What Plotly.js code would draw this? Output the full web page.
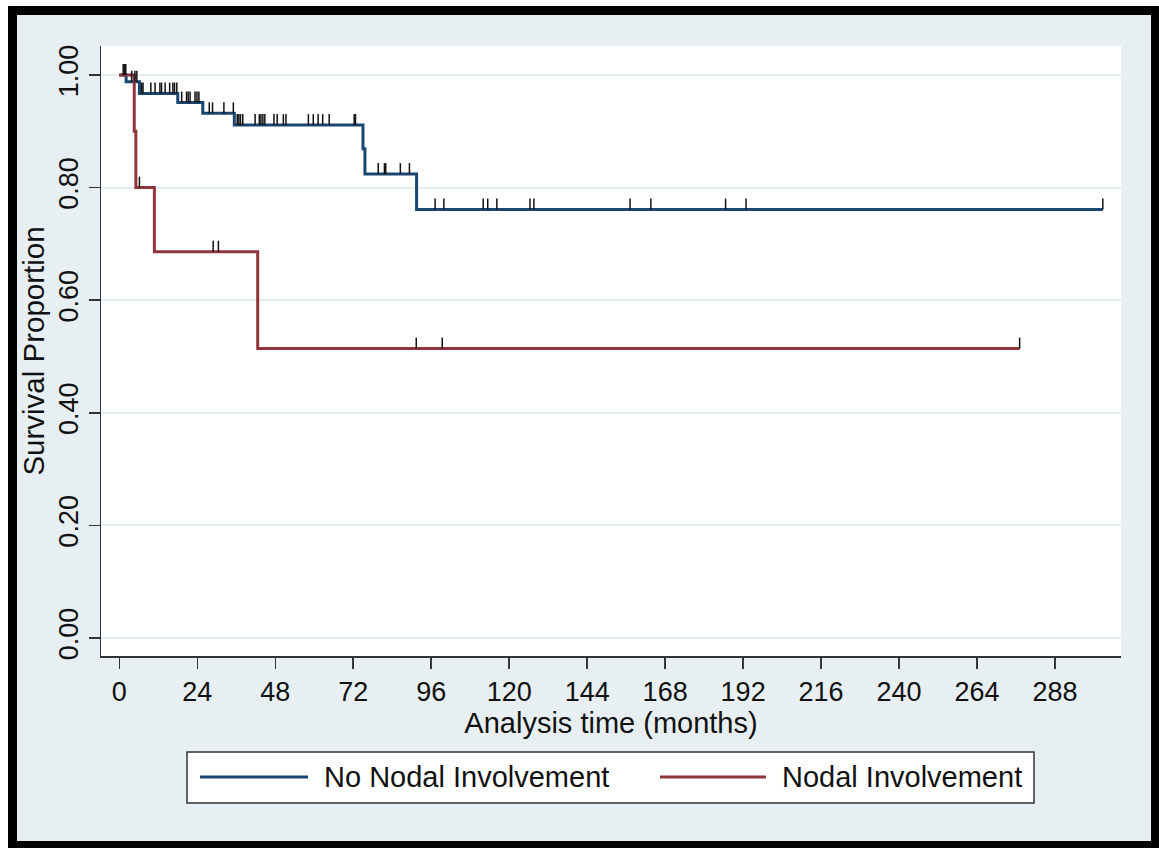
<!DOCTYPE html>
<html>
<head>
<meta charset="utf-8">
<script src="https://cdn.plot.ly/plotly-3.0.1.min.js"></script>
<style>html,body{margin:0;padding:0;background:#fff;}#chart{width:1159px;height:848px;}</style>
</head>
<body>
<div id="chart"></div>
<script>
// ---- Data ----
const seriesNames = ["No Nodal Involvement", "Nodal Involvement"];

// Kaplan-Meier step points: No Nodal Involvement
const noNodalTime = [0, 2.1, 6.2, 18.0, 25.7, 35.4, 75.0, 75.6, 91.5, 302.7];
const noNodalSurv = [1.0, 0.988, 0.967, 0.951, 0.932, 0.911, 0.869, 0.824, 0.761, 0.761];
// Censoring times: No Nodal Involvement
const noNodalCensor = [1.2, 1.6, 2.0, 3.8, 4.8, 5.4, 6.9, 7.3, 9.7, 11.0, 12.5, 13.0, 14.1, 15.5, 16.5, 17.0, 17.7,
  19.2, 20.7, 21.2, 21.8, 23.3, 23.9, 24.5, 27.7, 28.7, 32.2, 35.1,
  36.3, 36.8, 37.3, 38.0, 41.8, 43.1, 43.6, 44.2, 44.8, 47.6, 48.6, 50.5, 51.3, 58.2, 59.7, 61.2, 62.6, 64.6, 72.3, 72.7,
  79.7, 81.6, 82.0, 86.5, 89.3,
  97.2, 99.9, 112.0, 113.4, 116.2, 126.4, 127.6, 157.2, 163.6, 186.6, 192.9, 302.7];

// Kaplan-Meier step points: Nodal Involvement
const nodalTime = [0, 4.6, 5.1, 10.8, 42.6, 277.1];
const nodalSurv = [1.0, 0.9, 0.8, 0.686, 0.514, 0.514];
// Censoring times: Nodal Involvement
const nodalCensor = [6.2, 28.9, 30.5, 91.4, 99.4, 277.1];

const xTickVals = [0, 24, 48, 72, 96, 120, 144, 168, 192, 216, 240, 264, 288];
const yTickVals = [0, 0.2, 0.4, 0.6, 0.8, 1.0];
const yTickText = ["0.00", "0.20", "0.40", "0.60", "0.80", "1.00"];

// ---- helpers ----
function survAt(times, surv, t) {
  let v = surv[0];
  for (let i = 0; i < times.length; i++) { if (times[i] <= t) v = surv[i]; }
  return v;
}

const blue = "#1a476f", red = "#90353b";
const FONT = "Liberation Sans, Arial, Helvetica, sans-serif";

// layout geometry (pixels)
const W = 1159, H = 848;
const L = 101, R = 38, T = 46, B = 192;
const PW = W - L - R, PH = H - T - B;
const px = v => (v - L) / PW;
const py = v => 1 - (v - T) / PH;

function rectPx(x0, y0, x1, y1, fill, lineColor, lineWidth) {
  return {type: "rect", xref: "paper", yref: "paper", layer: "below",
    x0: px(x0), x1: px(x1), y0: py(y1), y1: py(y0),
    fillcolor: fill, line: {color: lineColor || fill, width: lineWidth || 0}};
}

const traces = [
  {x: noNodalTime, y: noNodalSurv, type: "scatter", mode: "lines", line: {shape: "hv", color: blue, width: 3},
    name: seriesNames[0], showlegend: false, hoverinfo: "skip"},
  {x: nodalTime, y: nodalSurv, type: "scatter", mode: "lines", line: {shape: "hv", color: red, width: 3},
    name: seriesNames[1], showlegend: false, hoverinfo: "skip"},
  {x: noNodalCensor, y: noNodalCensor.map(t => survAt(noNodalTime, noNodalSurv, t)), type: "scatter", mode: "markers",
    marker: {size: 1, opacity: 0}, showlegend: false, hoverinfo: "skip",
    error_y: {type: "constant", symmetric: false, value: 0.0195, valueminus: 0, width: 0, thickness: 1.5, color: "#111"}},
  {x: nodalCensor, y: nodalCensor.map(t => survAt(nodalTime, nodalSurv, t)), type: "scatter", mode: "markers",
    marker: {size: 1, opacity: 0}, showlegend: false, hoverinfo: "skip",
    error_y: {type: "constant", symmetric: false, value: 0.0195, valueminus: 0, width: 0, thickness: 1.5, color: "#111"}}
];

const shapes = [
  rectPx(8, 6, 1159, 848, "#000000"),
  rectPx(17, 15, 1151, 841, "#e8eff2"),
  rectPx(101, 46, 1121, 656, "#ffffff"),
  // custom legend
  rectPx(187, 752, 1034, 803, "#ffffff", "#333333", 1.5),
  {type: "line", xref: "paper", yref: "paper", x0: px(200), x1: px(308), y0: py(777), y1: py(777), line: {color: blue, width: 3}},
  {type: "line", xref: "paper", yref: "paper", x0: px(660), x1: px(766), y0: py(777), y1: py(777), line: {color: red, width: 3}}
];

const annotations = [
  {xref: "paper", yref: "paper", x: px(322), y: py(777), xanchor: "left", yanchor: "middle", showarrow: false,
    text: seriesNames[0], font: {family: FONT, size: 29, color: "#111"}},
  {xref: "paper", yref: "paper", x: px(780), y: py(777), xanchor: "left", yanchor: "middle", showarrow: false,
    text: seriesNames[1], font: {family: FONT, size: 29, color: "#111"}}
];

const layout = {
  width: W, height: H,
  margin: {l: L, r: R, t: T, b: B, pad: 0},
  paper_bgcolor: "#ffffff",
  plot_bgcolor: "rgba(0,0,0,0)",
  showlegend: false,
  font: {family: FONT, color: "#111"},
  xaxis: {
    range: [-5.63, 308.3], tickvals: xTickVals, ticktext: xTickVals.map(String),
    showgrid: false, zeroline: false, showline: true, linecolor: "#333", linewidth: 1.5,
    ticks: "outside", ticklen: 11, tickwidth: 1.5, tickcolor: "#333",
    tickfont: {family: FONT, size: 27, color: "#111"},
    title: {text: "Analysis time (months)", font: {family: FONT, size: 29, color: "#111"}, standoff: 6},
    automargin: false, fixedrange: true
  },
  yaxis: {
    range: [-0.032, 1.0515], tickvals: yTickVals, ticktext: yTickText, tickangle: -90,
    showgrid: true, gridcolor: "#e4edef", gridwidth: 2, zeroline: false,
    showline: true, linecolor: "#333", linewidth: 1.5,
    ticks: "outside", ticklen: 11, tickwidth: 1.5, tickcolor: "#333",
    tickfont: {family: FONT, size: 27, color: "#111"},
    title: {text: "Survival Proportion", font: {family: FONT, size: 29.5, color: "#111"}, standoff: 0},
    automargin: false, fixedrange: true
  },
  shapes: shapes,
  annotations: annotations
};

Plotly.newPlot("chart", traces, layout, {displayModeBar: false, staticPlot: true});
</script>
</body>
</html>
